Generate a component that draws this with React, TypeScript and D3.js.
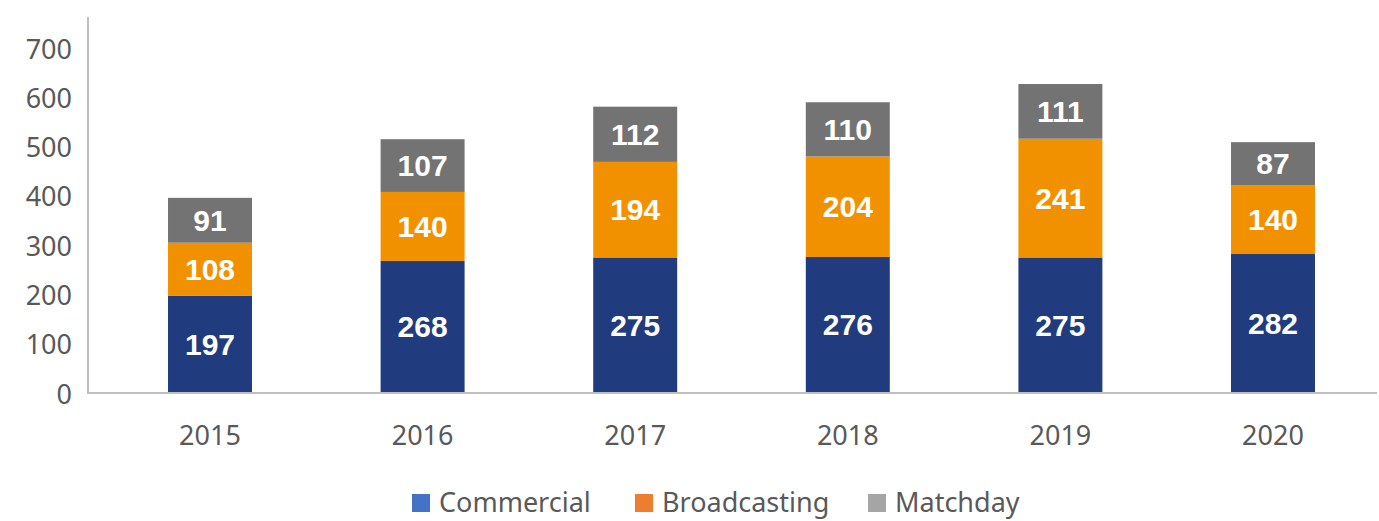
import React from "react";
import * as d3 from "d3";

const years = ["2015", "2016", "2017", "2018", "2019", "2020"];
const commercial = [197, 268, 275, 276, 275, 282];
const broadcasting = [108, 140, 194, 204, 241, 140];
const matchday = [91, 107, 112, 110, 111, 87];
const yTicks = [0, 100, 200, 300, 400, 500, 600, 700];
const seriesNames = ["Commercial", "Broadcasting", "Matchday"];
const barColors = ["#203C7E", "#F29100", "#737373"];
const legendColors = ["#4472C4", "#ED7D31", "#A5A5A5"];

const W = 1379;
const H = 521;

export default function App() {
  const x = d3.scaleBand<string>().domain(years).range([103.7, 1379.3]).paddingInner(0.605).paddingOuter(0.3025);
  const y = d3.scaleLinear().domain([0, 763]).range([393, 17]);

  const rows = years.map((yr, i) => ({
    year: yr,
    Commercial: commercial[i],
    Broadcasting: broadcasting[i],
    Matchday: matchday[i],
  }));
  const stacked = d3.stack<any>().keys(seriesNames)(rows);

  const font = "'Noto Sans', sans-serif";
  const legendX = [412, 635, 868];

  return (
    <svg width={W} height={H} style={{ position: "absolute", left: 0, top: 0 }}>
      <rect x={0} y={0} width={W} height={H} fill="#fff" />
      {stacked.map((layer, si) => (
        <g key={layer.key}>
          {layer.map((d, i) => {
            const x0 = x(years[i])!;
            const top = y(d[1]);
            const bot = y(d[0]);
            return (
              <g key={i}>
                <rect x={x0} y={top} width={x.bandwidth()} height={bot - top} fill={barColors[si]} />
                <text
                  x={x0 + x.bandwidth() / 2}
                  y={(top + bot) / 2}
                  textAnchor="middle"
                  dominantBaseline="central"
                  fill="#fff"
                  fontFamily="'Liberation Sans', Arial, sans-serif"
                  fontWeight="bold"
                  fontSize={30}
                >
                  {d[1] - d[0]}
                </text>
              </g>
            );
          })}
        </g>
      ))}
      <line x1={88} x2={88} y1={17} y2={393} stroke="#BFBFBF" strokeWidth={2} />
      <line x1={87} x2={1377} y1={393} y2={393} stroke="#BFBFBF" strokeWidth={2} />
      {yTicks.map((t) => (
        <text
          key={t}
          x={72}
          y={y(t)}
          textAnchor="end"
          dominantBaseline="central"
          fill="#595959"
          fontFamily={font}
          fontSize={27}
        >
          {t}
        </text>
      ))}
      {years.map((yr) => (
        <text
          key={yr}
          x={x(yr)! + x.bandwidth() / 2}
          y={445}
          textAnchor="middle"
          fill="#595959"
          fontFamily={font}
          fontSize={27}
        >
          {yr}
        </text>
      ))}
      {seriesNames.map((n, i) => (
        <g key={n}>
          <rect x={legendX[i]} y={494} width={18} height={18} fill={legendColors[i]} />
          <text x={legendX[i] + 27} y={512} fill="#595959" fontFamily={font} fontSize={27}>
            {n}
          </text>
        </g>
      ))}
    </svg>
  );
}
